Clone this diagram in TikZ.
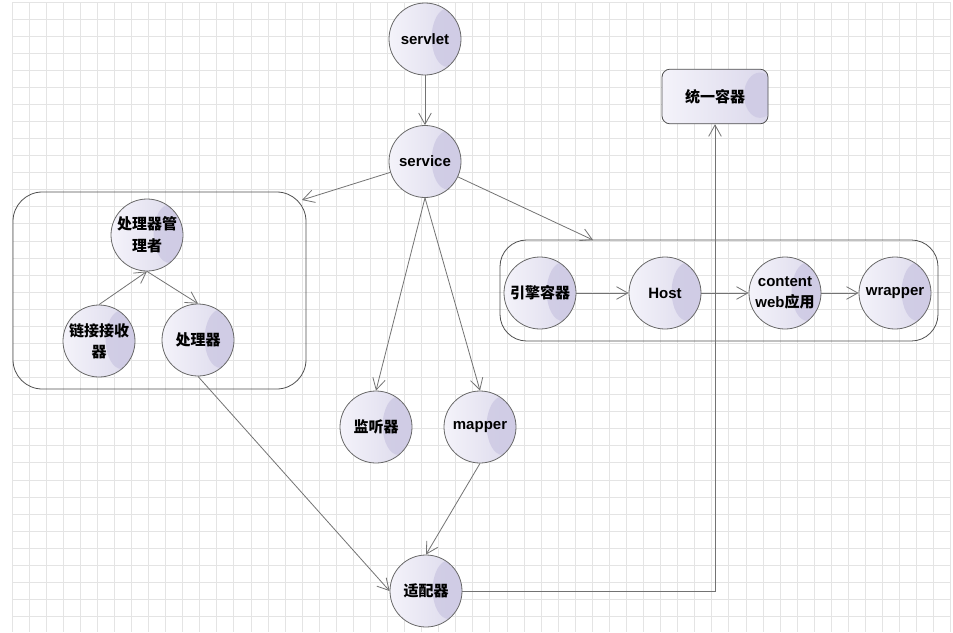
\documentclass[tikz,border=0pt]{standalone}
\usepackage{fontspec}
\setmainfont{Liberation Sans}
\newfontfamily\cjk{Noto Sans CJK SC}
\usetikzlibrary{arrows.meta,calc}
\definecolor{gridc}{RGB}{228,228,228}
\definecolor{ballL}{RGB}{244,243,250}
\definecolor{ballR}{RGB}{219,216,235}
\definecolor{blobc}{RGB}{206,202,228}
\definecolor{edgec}{RGB}{105,105,105}
\definecolor{linec}{RGB}{115,115,115}
\definecolor{boxc}{RGB}{80,80,80}
\newcommand\zh[1]{{\cjk\bfseries #1}}
\begin{document}
\begin{tikzpicture}[x=0.75pt,y=-0.75pt,
  ball/.style={circle, draw=edgec, line width=0.6pt, minimum size=54pt, inner sep=0pt,
    left color=ballL, right color=ballR, align=center,
    font=\fontsize{11.25}{15.5}\selectfont\bfseries,
    path picture={\fill[blobc, opacity=0.85] ($(path picture bounding box.center)+(17pt,1pt)$) ellipse [x radius=12pt, y radius=22pt];}},
  unibox/.style={rectangle, rounded corners=6pt, draw=boxc, line width=0.6pt,
    minimum width=79.5pt, minimum height=41pt, inner sep=0pt,
    left color=ballL, right color=ballR,
    font=\fontsize{11.25}{15.5}\selectfont\bfseries,
    path picture={\fill[blobc, opacity=0.85] ($(path picture bounding box.east)+(-6pt,1pt)$) ellipse [x radius=12pt, y radius=17pt];}},
  groupbox/.style={rectangle, draw=boxc, line width=0.6pt, inner sep=0pt},
  conn/.style={draw=linec, line width=0.6pt, -{Straight Barb[length=8.5pt,width=9.5pt,line width=0.6pt]}}
]
\useasboundingbox (0,0) rectangle (953,632);
\fill[white] (0,0) rectangle (953,632);
% grid
\foreach \i in {0,...,55} \draw[gridc, line width=0.7pt] ({12+\i*17.07},2) -- ({12+\i*17.07},632);
\foreach \j in {0,...,36} \draw[gridc, line width=0.7pt] (12,{2+\j*17.07}) -- (950,{2+\j*17.07});

% groups
\node[groupbox, rounded corners=22pt, minimum width=219.75pt, minimum height=147.75pt] (lgroup) at (159.5,290.5) {};
\node[groupbox, rounded corners=20pt, minimum width=328.5pt, minimum height=75.75pt] (rgroup) at (719,290.5) {};
\coordinate (lgin) at (302,200);
\coordinate (rgin) at (593,240);

% nodes
\node[ball] (servlet) at (425,39) {servlet};
\node[ball] (service) at (425,161.5) {service};
\node[unibox] (unified) at (715,96.5) {\zh{统一容器}};
\node[ball] (mgr) at (147,235) {\zh{处理器管}\\[1pt]\zh{理者}};
\node[ball] (recv) at (99,341) {\zh{链接接收}\\\zh{器}};
\node[ball] (proc) at (198,340) {\zh{处理器}};
\node[ball] (engine) at (540,293) {\zh{引擎容器}};
\node[ball] (host) at (665,293) {Host};
\node[ball] (ctx) at (785,293) {content\\web\zh{应用}};
\node[ball] (wrap) at (895,293) {wrapper};
\node[ball] (listener) at (376,427) {\zh{监听器}};
\node[ball] (mapper) at (480,427) {mapper};
\node[ball] (adapter) at (426,591) {\zh{适配器}};

% connectors
\draw[conn] (servlet) -- (service);
\draw[conn] (service) -- (lgin);
\draw[conn] (service) -- (rgin);
\draw[conn] (service.south) -- (listener.north);
\draw[conn] (service.south) -- (mapper.north);
\draw[conn] (recv.north) -- (mgr.south);
\draw[conn] (mgr.south) -- (proc.north);
\draw[conn] (engine) -- (host);
\draw[conn] (host) -- (ctx);
\draw[conn] (ctx) -- (wrap);
\draw[conn] (proc.south) -- (adapter.west);
\draw[conn] (mapper.south) -- (adapter.north);
\draw[conn] (adapter.east) -| (unified.south);
\end{tikzpicture}
\end{document}
